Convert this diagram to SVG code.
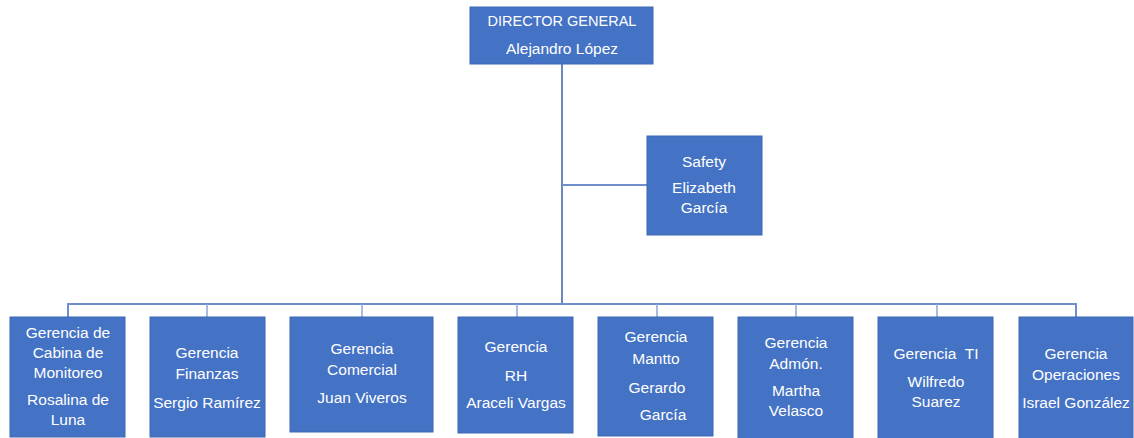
<svg xmlns="http://www.w3.org/2000/svg" width="1134" height="438" viewBox="0 0 1134 438">
<style>
.box{fill:#4472C4;stroke:#3F68B3;stroke-width:1}
.t{font-family:"Liberation Sans",Arial,sans-serif;font-size:15.5px;fill:#FFFFFF;text-anchor:middle}
.main{stroke:#3E5FA6;stroke-width:1.5;fill:none}
.bar{stroke:#6F8ECB;stroke-width:2;fill:none}
.drop{stroke:#8EA6D6;stroke-width:1.5;fill:none}
</style>
<rect width="1134" height="438" fill="#FFFFFF"/>
<g id="connectors">
<line class="main" x1="562" y1="64" x2="562" y2="304"/>
<line class="bar" x1="562" y1="185" x2="647" y2="185"/>
<polyline class="bar" points="68,317 68,304 1076,304 1076,317"/>
<line class="drop" x1="207" y1="304" x2="207" y2="317"/>
<line class="drop" x1="362" y1="304" x2="362" y2="317"/>
<line class="drop" x1="517" y1="304" x2="517" y2="317"/>
<line class="drop" x1="657" y1="304" x2="657" y2="317"/>
<line class="drop" x1="796" y1="304" x2="796" y2="317"/>
<line class="drop" x1="937" y1="304" x2="937" y2="317"/>
</g>
<g id="director">
<rect class="box" x="470" y="7" width="183" height="57"/>
<text class="t" x="562" y="26" style="font-size:14.5px">DIRECTOR GENERAL</text>
<text class="t" x="562" y="54">Alejandro López</text>
</g>
<g id="safety">
<rect class="box" x="647" y="136" width="115" height="99"/>
<text class="t" x="704" y="167">Safety</text>
<text class="t" x="704" y="193">Elizabeth</text>
<text class="t" x="704" y="213">García</text>
</g>
<g id="cabina">
<rect class="box" x="10" y="317" width="115" height="120"/>
<text class="t" x="68" y="338">Gerencia de</text>
<text class="t" x="68" y="358">Cabina de</text>
<text class="t" x="68" y="378">Monitoreo</text>
<text class="t" x="68" y="405">Rosalina de</text>
<text class="t" x="68" y="425">Luna</text>
</g>
<g id="finanzas">
<rect class="box" x="150" y="317" width="115" height="120"/>
<text class="t" x="207" y="358">Gerencia</text>
<text class="t" x="207" y="379">Finanzas</text>
<text class="t" x="207" y="408">Sergio Ramírez</text>
</g>
<g id="comercial">
<rect class="box" x="290" y="317" width="143" height="115"/>
<text class="t" x="362" y="354">Gerencia</text>
<text class="t" x="362" y="375">Comercial</text>
<text class="t" x="362" y="403">Juan Viveros</text>
</g>
<g id="rh">
<rect class="box" x="458" y="317" width="115" height="116"/>
<text class="t" x="516" y="352">Gerencia</text>
<text class="t" x="516" y="381">RH</text>
<text class="t" x="516" y="408">Araceli Vargas</text>
</g>
<g id="mantto">
<rect class="box" x="598" y="317" width="115" height="119"/>
<text class="t" x="656" y="342">Gerencia</text>
<text class="t" x="656" y="364">Mantto</text>
<text class="t" x="657" y="393">Gerardo</text>
<text class="t" x="663" y="420">García</text>
</g>
<g id="admon">
<rect class="box" x="738" y="317" width="115" height="122"/>
<text class="t" x="796" y="348">Gerencia</text>
<text class="t" x="796" y="369">Admón.</text>
<text class="t" x="796" y="396">Martha</text>
<text class="t" x="796" y="416">Velasco</text>
</g>
<g id="ti">
<rect class="box" x="878" y="317" width="115" height="122"/>
<text class="t" x="936" y="359" xml:space="preserve">Gerencia  TI</text>
<text class="t" x="936" y="387">Wilfredo</text>
<text class="t" x="936" y="407">Suarez</text>
</g>
<g id="operaciones">
<rect class="box" x="1019" y="317" width="114" height="122"/>
<text class="t" x="1076" y="359">Gerencia</text>
<text class="t" x="1076" y="380">Operaciones</text>
<text class="t" x="1076" y="408">Israel González</text>
</g>
</svg>
